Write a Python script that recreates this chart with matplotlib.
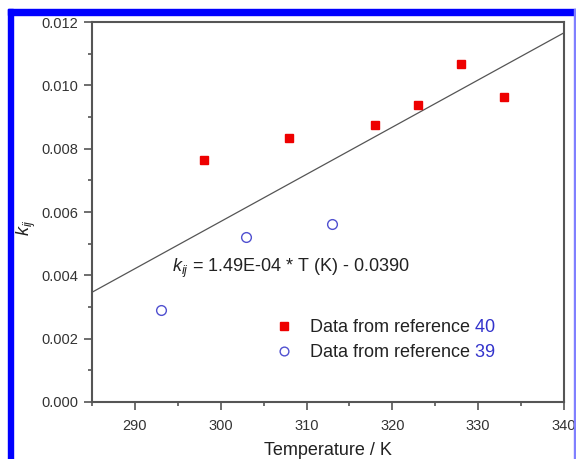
import matplotlib
matplotlib.use('Agg')
import matplotlib.pyplot as plt
from matplotlib.patches import Rectangle
from matplotlib.ticker import MultipleLocator
import numpy as np

plt.rcParams['font.family'] = ['Liberation Sans', 'DejaVu Sans']
plt.rcParams['mathtext.fontset'] = 'custom'
plt.rcParams['mathtext.rm'] = 'Liberation Sans'
plt.rcParams['mathtext.it'] = 'Liberation Sans:italic'

# Data from reference 40 (filled red squares)
t_ref40 = [298, 308, 318, 323, 328, 333]
k_ref40 = [0.00765, 0.00835, 0.00875, 0.00938, 0.01067, 0.00963]
# Data from reference 39 (open blue circles)
t_ref39 = [293, 303, 313]
k_ref39 = [0.00291, 0.00521, 0.00562]
# linear fit k_ij = a*T + b
slope = 1.49e-4
intercept = -0.0390
t_fit = [285, 340]

axis_col = '#555555'
fig = plt.figure(figsize=(5.76, 4.59), dpi=100)
ax = fig.add_axes([0.1597, 0.1242, 0.8194, 0.8278])

tf = np.array(t_fit)
ax.plot(tf, slope * tf + intercept, color='#555555', lw=0.9, zorder=1)
ax.plot(t_ref40, k_ref40, 's', color='#ee0000', ms=5.8, mec='#ee0000',
        ls='none', label='Data from reference', zorder=3)
ax.plot(t_ref39, k_ref39, 'o', mfc='none', mec='#5050d0', ms=7, mew=1.0,
        ls='none', label='Data from reference', zorder=3)

ax.set_xlim(285, 340)
ax.set_ylim(0, 0.012)
ax.xaxis.set_major_locator(MultipleLocator(10))
ax.xaxis.set_minor_locator(MultipleLocator(5))
ax.yaxis.set_major_locator(MultipleLocator(0.002))
ax.yaxis.set_minor_locator(MultipleLocator(0.001))
ax.yaxis.set_major_formatter(matplotlib.ticker.FormatStrFormatter('%.3f'))
ax.tick_params(which='both', direction='out', color=axis_col, labelcolor='#333333',
               labelsize=10.5, width=1.2)
ax.tick_params(which='major', length=6, pad=4)
ax.tick_params(axis='x', which='major', pad=6)
ax.tick_params(which='minor', length=3)
for s in ax.spines.values():
    s.set_color(axis_col)
    s.set_linewidth(1.5)

ax.set_xlabel('Temperature / K', fontsize=13, color='#222222', labelpad=7)
ax.set_ylabel(r'$k_{ij}$', fontsize=13, color='#222222')
ax.yaxis.set_label_coords(-0.115, 0.46)

ax.text(294.3, 0.0041, r'$k_{ij}$ = 1.49E-04 * T (K) - 0.0390',
        fontsize=13, color='#222222')

leg = ax.legend(loc='lower left', bbox_to_anchor=(0.35, 0.065), frameon=False,
                fontsize=13, handletextpad=0.8, labelspacing=0.42,
                handlelength=1.2, markerscale=0.9)
nums = ['40', '39']
fig.canvas.draw()
for txt, n in zip(leg.get_texts(), nums):
    txt.set_color('#222222')
    ax.annotate(' ' + n, xy=(1, 0), xycoords=txt, va='bottom', ha='left',
                fontsize=13, color='#3333cc')

# blue page frame
fig.patches.append(Rectangle((8 / 576, 0), 5 / 576, 1 - 9 / 459,
                             transform=fig.transFigure, color='#0000ff', zorder=10))
fig.patches.append(Rectangle((8 / 576, 1 - 15 / 459), 1 - 8 / 576, 6 / 459,
                             transform=fig.transFigure, color='#0000ff', zorder=10))
fig.patches.append(Rectangle((574 / 576, 0), 2 / 576, 1 - 9 / 459,
                             transform=fig.transFigure, color='#8080ff', zorder=10))

fig.savefig('out.png', dpi=100)
